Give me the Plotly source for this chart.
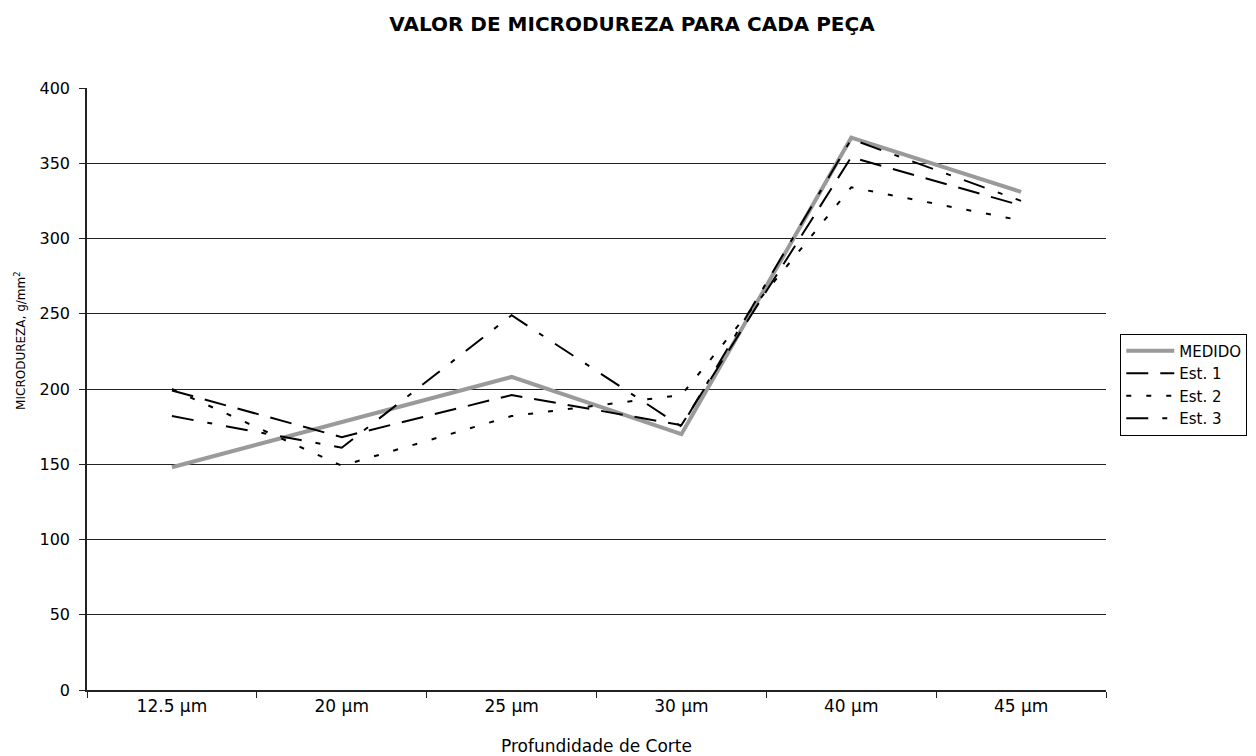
import plotly.graph_objects as go

categories = ["12.5 µm", "20 µm", "25 µm", "30 µm", "40 µm", "45 µm"]
medido = [148, 178, 208, 170, 367, 331]
est1 = [199, 168, 196, 176, 354, 322]
est2 = [200, 149, 182, 196, 334, 312]
est3 = [182, 161, 249, 175, 366, 325]

FONT = "DejaVu Sans, Verdana, sans-serif"

fig = go.Figure()
fig.add_trace(go.Scatter(x=categories, y=medido, name="MEDIDO", mode="lines",
                         line=dict(color="#9a9a9a", width=4)))
fig.add_trace(go.Scatter(x=categories, y=est1, name="Est. 1", mode="lines",
                         line=dict(color="#000000", width=2, dash="22px,12px")))
fig.add_trace(go.Scatter(x=categories, y=est2, name="Est. 2", mode="lines",
                         line=dict(color="#000000", width=2, dash="5px,15px")))
fig.add_trace(go.Scatter(x=categories, y=est3, name="Est. 3", mode="lines",
                         line=dict(color="#000000", width=2, dash="22px,14px,5px,14px")))

fig.update_layout(
    width=1248, height=748,
    paper_bgcolor="white", plot_bgcolor="white",
    margin=dict(l=79, r=150, t=80, b=66, autoexpand=False),
    font=dict(family=FONT, size=14, color="black"),
    title=dict(text="<b>VALOR DE MICRODUREZA PARA CADA PEÇA</b>",
               x=0.5, xref="container", xanchor="center",
               y=0.978, yref="container", yanchor="middle",
               font=dict(family=FONT, size=20, color="black")),
    showlegend=True,
    legend=dict(x=1.014, xanchor="left", y=0.592, yanchor="top",
                bordercolor="black", borderwidth=1, bgcolor="white",
                font=dict(family=FONT, size=15, color="black"),
                tracegroupgap=0, itemwidth=48),
    annotations=[dict(text="MICRODUREZA, g/mm<sup>2</sup>", textangle=-90,
                      xref="paper", yref="paper", x=-0.0657, y=0.58,
                      xanchor="center", yanchor="middle", showarrow=False,
                      font=dict(family=FONT, size=12, color="black"))],
)
fig.update_xaxes(
    type="category", range=[-0.5, 5.5], automargin=False,
    showline=True, linecolor="#222", linewidth=1.5,
    ticks="outside", tickson="boundaries", ticklen=6, tickcolor="#222",
    showgrid=False, tickfont=dict(size=17), ticklabelstandoff=0,
    title=dict(text="Profundidade de Corte", font=dict(size=17), standoff=25),
)
fig.update_yaxes(
    range=[0, 400], dtick=50, tick0=0, automargin=False,
    showline=True, linecolor="#222", linewidth=1.5,
    ticks="outside", ticklen=6, tickcolor="#222",
    showgrid=True, gridcolor="#222", gridwidth=1.2, zeroline=False,
    tickfont=dict(size=16), ticklabelstandoff=6,
)

fig.write_html("out.html")
